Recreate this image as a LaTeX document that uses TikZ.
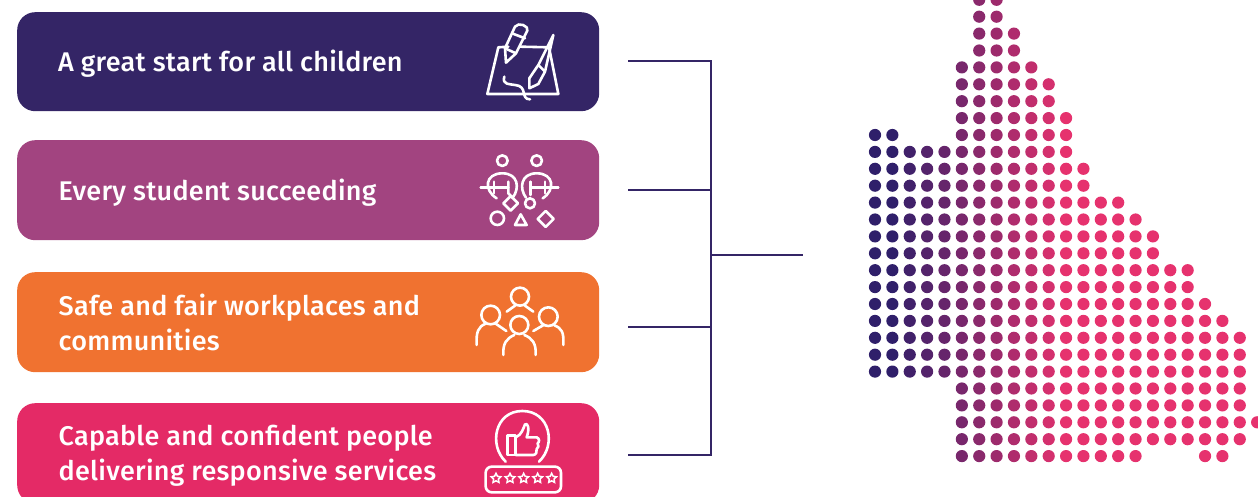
\documentclass[tikz,border=0pt]{standalone}
\usepackage{fontspec}
\setmainfont{Fira Sans}[UprightFont=* Medium,LetterSpace=1]
\usetikzlibrary{shapes.geometric,positioning,calc}

\definecolor{navyq}{HTML}{342566}
\definecolor{plumq}{HTML}{A24480}
\definecolor{orangeq}{HTML}{F07230}
\definecolor{pinkq}{HTML}{E42A66}
\definecolor{dotdark}{HTML}{2F1F6A}
\definecolor{dotpink}{HTML}{E6326E}

\tikzset{
    card/.style={anchor=north west, rounded corners=18pt, minimum width=582pt, minimum height=100pt, inner sep=0pt},
    cardtext/.style={anchor=west, inner sep=0pt, align=left, text=white, font=\fontsize{27}{35}\selectfont},
    icon/.style={draw=white, line width=2.6pt, line cap=round, line join=round},
    bracket/.style={draw=navyq, line width=2.2pt},
    zoomed/.style={x=0.3333pt, y=-0.3333pt}
}

\begin{document}
\begin{tikzpicture}[x=1pt,y=-1pt]
    \clip (0,0) rectangle (1258,497);

    % Cards
    \node [card, fill=navyq, minimum height=99pt] (start) at (17,12) {};
    \node [card, fill=plumq] (student) at (17,140) {};
    \node [card, fill=orangeq] (safe) at (17,272) {};
    \node [card, fill=pinkq] (capable) at (17,403) {};
    \node [cardtext] (starttext) at ([xshift=41pt,yshift=-2pt]start.west) {A great start for all children};
    \node [cardtext] (studenttext) at ([xshift=41.5pt,yshift=-2pt]student.west) {Every student succeeding};
    \node [cardtext] (safetext) at ([xshift=41.5pt,yshift=0pt]safe.west) {Safe and fair workplaces and\\communities};
    \node [cardtext] (capabletext) at ([xshift=41.5pt,yshift=-3pt]capable.west) {Capable and confident people\\delivering responsive services};

    % Bracket
    \coordinate (tick1) at (628,61);
    \coordinate (tick2) at (628,190);
    \coordinate (tick3) at (628,327);
    \coordinate (tick4) at (628,455);
    \coordinate (spine) at (711,255);
    \coordinate (stem) at (803,255);
    \draw [bracket] (tick1) -| (spine);
    \draw [bracket] (tick4) -| (spine);
    \draw [bracket] (tick2) -- (tick2 -| spine);
    \draw [bracket] (tick3) -- (tick3 -| spine);
    \draw [bracket] (spine) -- (stem);

    % Pencil and brush
    \begin{scope}[shift={(470,10)}, zoomed]
        \draw [icon] (115,110) -- (85,112) -- (52,252) -- (265,252) -- (237,112) -- (150,110);
        \draw [icon] (105,115) -- (135,50) .. controls (145,35) and (178,48) .. (172,62) -- (138,130) -- (108,158) -- cycle;
        \draw [icon] (126,70) -- (165,85);
        \draw [icon] (105,115) -- (138,130);
        \draw [icon] (250,75) -- (205,165) -- (178,205) -- (178,235) -- (205,222) -- (225,185) -- cycle;
        \draw [icon] (205,165) -- (225,185);
        \draw [icon] (103,200) .. controls (95,225) and (120,222) .. (135,225) .. controls (175,228) and (150,268) .. (180,268);
    \end{scope}

    % Two figures and shapes
    \begin{scope}[shift={(470,145)}, zoomed]
        \draw [icon] (97,47) circle [radius=16];
        \draw [icon] (200,47) circle [radius=16];
        \draw [icon] (32,127) -- (115,127);
        \draw [icon] (182,127) -- (265,127);
        \draw [icon] (128,158) .. controls (150,130) and (145,85) .. (97,85) .. controls (45,85) and (40,135) .. (80,160);
        \draw [icon] (168,158) .. controls (147,130) and (152,85) .. (200,85) .. controls (252,85) and (257,135) .. (218,160);
        \draw [icon] (72,110) -- (72,145);
        \draw [icon] (115,110) -- (115,145) -- (128,158);
        \draw [icon] (182,110) -- (182,150);
        \draw [icon] (225,110) -- (225,145);
        \draw [icon] (122,153) -- (144,175) -- (122,197) -- (100,175) -- cycle;
        \draw [icon] (180,175) circle [radius=15];
        \draw [icon] (82,220) circle [radius=20];
        \draw [icon] (135,240) -- (170,240) -- (152,208) -- cycle;
        \draw [icon] (227,198) -- (251,222) -- (227,246) -- (203,222) -- cycle;
    \end{scope}

    % Group of people
    \begin{scope}[shift={(465,280)}, zoomed]
        \draw [icon] (165,50) circle [radius=27];
        \draw [icon] (125,95) -- (150,77);
        \draw [icon] (205,95) -- (180,77);
        \draw [icon] (77,105) circle [radius=28];
        \draw [icon] (35,195) .. controls (33,155) and (40,140) .. (62,131);
        \draw [icon] (92,131) -- (124,153);
        \draw [icon] (250,110) circle [radius=28];
        \draw [icon] (295,195) .. controls (297,155) and (290,145) .. (268,136);
        \draw [icon] (236,135) -- (205,153);
        \draw [icon] (163,135) circle [radius=27];
        \draw [icon] (115,225) .. controls (113,190) and (125,175) .. (148,165);
        \draw [icon] (212,225) .. controls (214,190) and (202,175) .. (178,165);
    \end{scope}

    % Thumbs up and rating
    \begin{scope}[shift={(475,405)}, zoomed]
        \draw [icon] (92,170) .. controls (40,120) and (60,18) .. (142,18) .. controls (225,18) and (245,120) .. (192,170);
        \draw [icon, rounded corners=6pt] (32,185) rectangle (258,262);
        \draw [icon] (97,92) rectangle (122,150);
        \draw [icon] (122,97) .. controls (140,90) and (145,70) .. (150,58) .. controls (158,52) and (165,70) .. (155,97)
            -- (185,97) .. controls (195,100) and (193,112) .. (188,115) .. controls (193,120) and (190,130) .. (185,132)
            .. controls (188,140) and (182,150) .. (175,150) -- (122,150);
        \foreach \i/\sx in {1/63,2/105,3/146,4/188,5/230}
            \node [star, star points=5, star point ratio=2, draw=white, line width=1.5pt, minimum size=10pt, inner sep=0pt] (rate\i) at (\sx,220) {};
    \end{scope}

    % Dot map
    \foreach \r/\from/\to in {0/6/7,1/6/7,2/6/8,3/6/8,4/5/9,5/5/10,6/5/10,7/5/11,8/0/1,8/5/11,9/0/11,10/0/12,11/0/12,12/0/14,13/0/15,14/0/16,15/0/16,16/0/18,17/0/18,18/0/19,19/0/20,20/0/21,21/0/21,22/0/21,23/5/21,24/5/21,25/5/22,26/5/21,27/5/15,27/19/20}
        \foreach \c in {\from,...,\to} {
            \pgfmathtruncatemacro\mixpct{min(max(\c-1,0)*10,100)}
            \fill [dotpink!\mixpct!dotdark] ({875+17.37*\c},{135+16.9*(\r-8)}) circle [radius=6.1];
        }
\end{tikzpicture}
\end{document}
